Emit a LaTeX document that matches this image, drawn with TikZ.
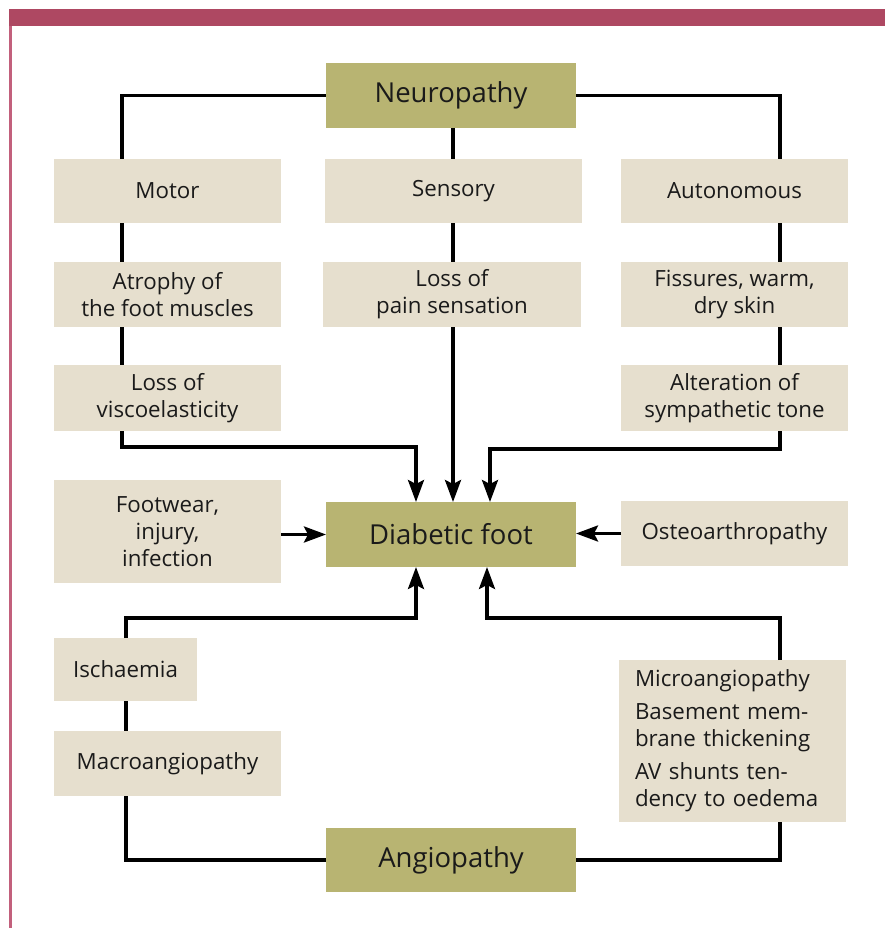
\documentclass[tikz,border=0pt]{standalone}
\usepackage{fontspec}
\setmainfont{Open Sans}
\usetikzlibrary{arrows.meta}
\definecolor{olivebox}{HTML}{B8B472}
\definecolor{beigebox}{HTML}{E6DFCE}
\definecolor{barcol}{HTML}{AE4862}
\definecolor{sidecol}{HTML}{C2607C}
\definecolor{txt}{HTML}{1A1A1A}
\tikzset{
  base/.style={inner sep=0pt, outer sep=0pt, text=txt, align=center},
  titlebox/.style={base, fill=olivebox, minimum width=250pt, minimum height=65pt, font=\fontsize{27.5}{32}\selectfont},
  lbox/.style={base, fill=beigebox, font=\fontsize{22.3}{27}\selectfont},
  conn/.style={line width=3.4pt, draw=black, line join=miter},
  arr/.style={conn, -{Stealth[length=22pt, width=16pt, inset=4pt]}}
}
\begin{document}
\begin{tikzpicture}[x=1pt, y=-1pt]
\useasboundingbox (0,0) rectangle (885,928);
\fill[white] (0,0) rectangle (885,928);
\fill[barcol] (9,9) rectangle (885,26);
\fill[sidecol] (9,26) rectangle (11.5,928);

% guide coordinates
\coordinate (lx) at (122,0);
\coordinate (lbx) at (126,0);
\coordinate (rx) at (780,0);
\coordinate (sx) at (453,0);
\coordinate (a1) at (416,0);
\coordinate (a3) at (490,0);
\coordinate (a4) at (487,0);

% nodes
\node[titlebox] (neuro) at (451,95.5) {Neuropathy};
\node[lbox, minimum width=227pt, minimum height=64pt] (motor) at (167.5,191) {Motor};
\node[lbox, minimum width=257pt, minimum height=64pt] (sensory) at (453.5,191) {Sensory};
\node[lbox, minimum width=227pt, minimum height=64pt] (auto) at (734.5,191) {Autonomous};
\node[lbox, minimum width=227pt, minimum height=65pt] (atrophy) at (167.5,294.5) {Atrophy of\\the foot muscles};
\node[lbox, minimum width=258pt, minimum height=65pt] (pain) at (452,294.5) {Loss of\\pain sensation};
\node[lbox, minimum width=227pt, minimum height=65pt] (fiss) at (734.5,294.5) {Fissures, warm,\\dry skin};
\node[lbox, minimum width=227pt, minimum height=66pt] (visco) at (167.5,398) {Loss of\\viscoelasticity};
\node[lbox, minimum width=227pt, minimum height=66pt] (alter) at (734.5,398) {Alteration of\\sympathetic tone};
\node[lbox, minimum width=227pt, minimum height=103pt] (footwear) at (167.5,531.5) {Footwear,\\injury,\\infection};
\node[titlebox] (diab) at (451,534.5) {Diabetic foot};
\node[lbox, minimum width=227pt, minimum height=65pt] (osteo) at (734.5,533.5) {Osteoarthropathy};
\node[lbox, minimum width=143pt, minimum height=63pt] (isch) at (125.5,669.5) {Ischaemia};
\node[lbox, minimum width=227pt, minimum height=65pt] (macro) at (167.5,763.5) {Macroangiopathy};
\node[lbox, align=left, text width=195pt, inner xsep=16pt, minimum height=162pt] (micro) at (732.5,741)
  {Microangiopathy\\[6pt]Basement mem-\\brane thickening\\[6pt]AV shunts ten-\\dency to oedema};
\node[titlebox, minimum height=64pt] (angio) at (451,860) {Angiopathy};

% neuropathy branches
\draw[conn] (neuro.west) -| (motor.north -| lx);
\draw[conn] (neuro.east) -| (auto.north -| rx);
\draw[conn] (neuro.south -| sx) -- (sensory.north -| sx);
\draw[conn] (motor.south -| lx) -- (atrophy.north -| lx);
\draw[conn] (atrophy.south -| lx) -- (visco.north -| lx);
\draw[conn] (sensory.south -| sx) -- (pain.north -| sx);
\draw[conn] (auto.south -| rx) -- (fiss.north -| rx);
\draw[conn] (fiss.south -| rx) -- (alter.north -| rx);

% arrows into diabetic foot
\draw[arr] (visco.south -| lx) -- ++(0,16) -| (diab.north -| a1);
\draw[arr] (pain.south -| sx) -- (diab.north -| sx);
\draw[arr] (alter.south -| rx) -- ++(0,18) -| (diab.north -| a3);
\draw[arr] (footwear.east |- diab.west) -- (diab.west);
\draw[arr] (osteo.west) -- (osteo.west -| diab.east);
\draw[arr] (isch.north -| lbx) -- ++(0,-20) -| (diab.south -| a1);
\draw[arr] (micro.north -| rx) -- ++(0,-42) -| (diab.south -| a4);

% angiopathy branches
\draw[conn] (isch.south -| lbx) -- (macro.north -| lbx);
\draw[conn] (macro.south -| lbx) |- (angio.west);
\draw[conn] (angio.east) -| (micro.south -| rx);
\end{tikzpicture}
\end{document}
